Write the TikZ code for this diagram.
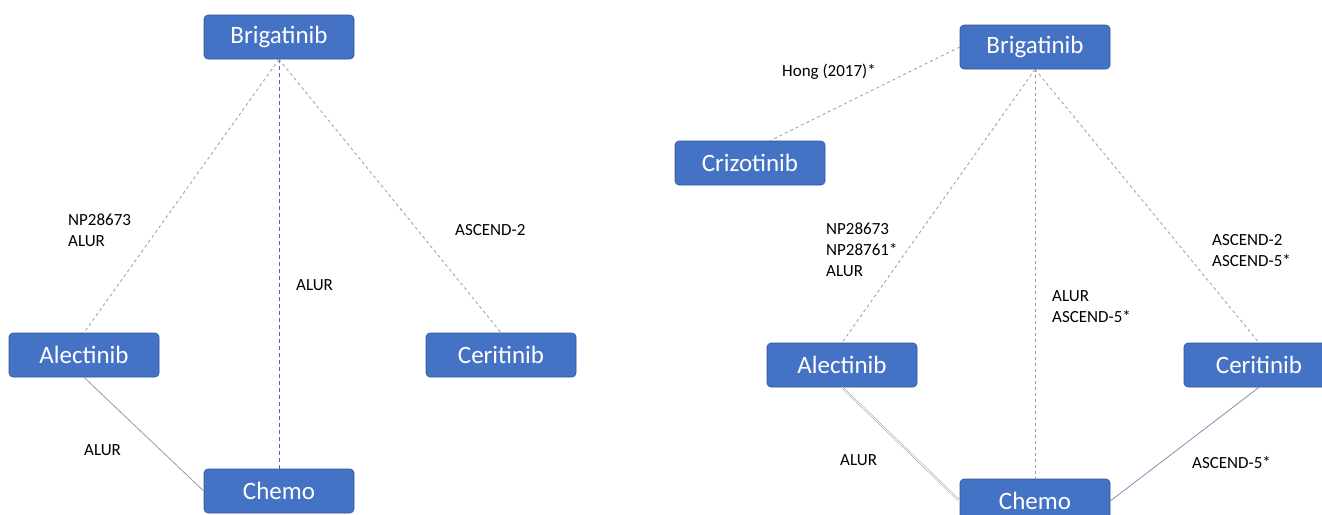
\documentclass[tikz,border=0pt]{standalone}
\usepackage{fontspec}
\setmainfont{Carlito}
\definecolor{boxblue}{HTML}{4472C4}
\definecolor{boxedge}{HTML}{2F5597}
\definecolor{lnk}{HTML}{9A9A9A}
\definecolor{vblue}{HTML}{5A5AC0}
\definecolor{cblue}{HTML}{7F8FB0}
\begin{document}
\begin{tikzpicture}[x=1pt,y=-1pt,
  drug/.style={draw=boxedge,line width=0.6pt,fill=boxblue,rounded corners=4pt,
    minimum width=150pt,minimum height=44pt,inner sep=0pt,text=white,
    font=\fontsize{25}{27}\selectfont},
  lab/.style={anchor=west,align=left,inner sep=0pt,font=\fontsize{17}{21}\selectfont},
  trial/.style={draw=lnk,line width=0.8pt,dash pattern=on 3pt off 3pt},
  trialv/.style={draw=vblue,line width=1pt,dash pattern=on 4pt off 3pt},
  direct/.style={draw=lnk,line width=0.8pt}]
\useasboundingbox (0,0) rectangle (1322,514);
\clip (0,0) rectangle (1322,514);
% ---------- left network ----------
\node[drug] (lB) at (279,37) {Brigatinib};
\node[drug] (lA) at (84,355) {Alectinib};
\node[drug] (lCe) at (501,355) {Ceritinib};
\node[drug] (lCh) at (279,491) {Chemo};
\draw[trial] (lB.south) -- (lA.north);
\draw[trialv] (lB.south) -- (lCh.north);
\draw[trial] (lB.south) -- (lCe.north);
\draw[direct] (lA.south) -- (lCh.west);
\node[lab] (l1) at (68,230) {NP28673\\ALUR};
\node[lab] (l2) at (296,285) {ALUR};
\node[lab] (l3) at (455,230) {ASCEND-2};
\node[lab] (l4) at (84,450) {ALUR};
% ---------- right network ----------
\node[drug] (rB) at (1035,47) {Brigatinib};
\node[drug] (rCr) at (750,163) {Crizotinib};
\node[drug] (rA) at (842,365) {Alectinib};
\node[drug] (rCe) at (1259,365) {Ceritinib};
\node[drug] (rCh) at (1035,501) {Chemo};
\draw[trial] (rB.west) -- ([xshift=20pt]rCr.north);
\draw[trial] (rB.south) -- (rA.north);
\draw[trial] (rB.south) -- (rCh.north);
\draw[trial] (rB.south) -- (rCe.north);
\draw[direct,double=white,double distance=1pt,line width=0.5pt] (rA.south) -- (rCh.west);
\draw[direct,draw=cblue] (rCe.south) -- (rCh.east);
\node[lab] (r0) at (782,72) {Hong (2017)*};
\node[lab] (r1) at (826,250) {NP28673\\NP28761*\\ALUR};
\node[lab] (r2) at (1052,307) {ALUR\\ASCEND-5*};
\node[lab] (r3) at (1212,251) {ASCEND-2\\ASCEND-5*};
\node[lab] (r4) at (840,460) {ALUR};
\node[lab] (r5) at (1192,463) {ASCEND-5*};
\end{tikzpicture}
\end{document}
